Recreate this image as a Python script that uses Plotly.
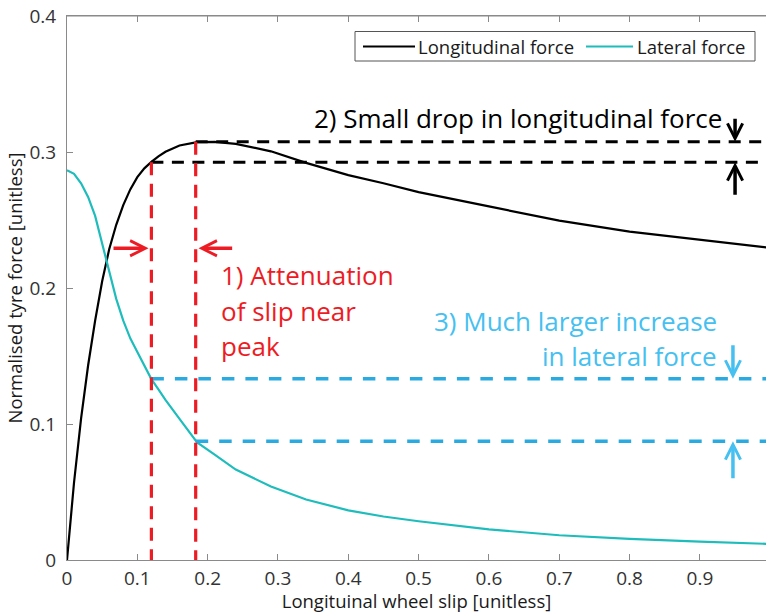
import plotly.graph_objects as go

# Wheel slip grid and normalised tyre forces
slip = [0.00, 0.01, 0.02, 0.03, 0.04, 0.05, 0.06, 0.07, 0.08, 0.09,
        0.10, 0.11, 0.12, 0.13, 0.14, 0.16, 0.185, 0.21, 0.24, 0.29,
        0.34, 0.40, 0.45, 0.50, 0.60, 0.70, 0.80, 0.90, 1.00]
longitudinal_force = [0.000, 0.057, 0.104, 0.143, 0.176, 0.205, 0.2285, 0.2465, 0.2610, 0.2725,
                      0.2815, 0.2880, 0.2927, 0.2968, 0.3002, 0.3048, 0.3073, 0.3074, 0.3060, 0.3005,
                      0.2920, 0.2830, 0.2770, 0.2705, 0.2600, 0.2495, 0.2415, 0.2355, 0.2295]
lateral_force = [0.2865, 0.2840, 0.2770, 0.2670, 0.2530, 0.2330, 0.2110, 0.1920, 0.1760, 0.1630,
                 0.1530, 0.1430, 0.1330, 0.1255, 0.1178, 0.1037, 0.0865, 0.0775, 0.0665, 0.0540,
                 0.0445, 0.0365, 0.0320, 0.0285, 0.0225, 0.0182, 0.0155, 0.0135, 0.0118]

# Operating points compared in the annotations
slip_marks = [0.12, 0.183]
long_levels = [0.2925, 0.3075]
lat_levels = [0.1333, 0.0873]

x_ticks = [0, 0.1, 0.2, 0.3, 0.4, 0.5, 0.6, 0.7, 0.8, 0.9]
y_ticks = [0, 0.1, 0.2, 0.3, 0.4]
y_tick_text = ["0", "0.1", "0.2", "0.3", "0.4"]

series_names = ["Longitudinal force", "Lateral force"]

FONT = "Open Sans"
RED = "#ed1c24"
SKY = "#29abe2"
SKY_LIGHT = "#45c0f0"
CURVE_CYAN = "#1fbcbc"
AXIS_GREY = "#8a8a8a"
TEXT_GREY = "#333333"

W, H = 766, 613
ML, MT, MB = 67, 16, 53
PW, PH = W - ML, H - MT - MB
x_end = 0.994


def px(x):
    """pixel column -> paper x"""
    return (x - ML) / PW


def py(y):
    """pixel row -> paper y"""
    return (H - MB - y) / PH


fig = go.Figure()

fig.add_trace(go.Scatter(x=slip, y=longitudinal_force, mode="lines",
                         name=series_names[0], showlegend=False,
                         line=dict(color="black", width=2.2)))
fig.add_trace(go.Scatter(x=slip, y=lateral_force, mode="lines",
                         name=series_names[1], showlegend=False,
                         line=dict(color=CURVE_CYAN, width=2.2)))

# Dashed guide lines: horizontal levels run out to the right edge
for s, lv in zip(slip_marks, long_levels):
    fig.add_trace(go.Scatter(x=[s, 1.0], y=[lv, lv], mode="lines", showlegend=False,
                             hoverinfo="skip",
                             line=dict(color="black", width=3, dash="12px,8.5px")))
for s, lv in zip(slip_marks, lat_levels):
    fig.add_trace(go.Scatter(x=[s, 1.0], y=[lv, lv], mode="lines", showlegend=False,
                             hoverinfo="skip",
                             line=dict(color=SKY, width=3.5, dash="12.5px,11px")))
# Vertical slip markers from the longitudinal level down to zero
for s, lv in zip(slip_marks, long_levels):
    fig.add_trace(go.Scatter(x=[s, s], y=[lv, 0], mode="lines", showlegend=False,
                             hoverinfo="skip",
                             line=dict(color=RED, width=3.2, dash="13px,8.5px")))

annotations = []


def arrow(x_tip, y_tip, x_tail, y_tail, color):
    annotations.append(dict(
        x=x_tip, y=y_tip, ax=x_tail, ay=y_tail,
        xref="x", yref="y", axref="x", ayref="y",
        text="", showarrow=True, arrowhead=5, arrowsize=0.85,
        arrowwidth=3.5, arrowcolor=color, standoff=0))


# slip attenuation arrows
arrow(0.116, 0.2292, 0.064, 0.2292, RED)
arrow(0.187, 0.2292, 0.237, 0.2292, RED)
# longitudinal drop arrows
arrow(0.950, long_levels[1], 0.950, 0.3255, "black")
arrow(0.950, long_levels[0], 0.950, 0.2675, "black")
# lateral increase arrows
arrow(0.947, lat_levels[0], 0.947, 0.1590, SKY_LIGHT)
arrow(0.947, lat_levels[1], 0.947, 0.0590, SKY_LIGHT)

# Text callouts
annotations.append(dict(x=0.642, y=0.3252, xref="x", yref="y", xanchor="center", yanchor="middle",
                        text="2) Small drop in longitudinal force", showarrow=False,
                        font=dict(family=FONT, size=26, color="black")))
for txt, yy in zip(["1) Attenuation", "of slip near", "peak"], [0.2096, 0.1831, 0.1574]):
    annotations.append(dict(x=0.216, y=yy, xref="x", yref="y", xanchor="left", yanchor="middle",
                            text=txt, showarrow=False,
                            font=dict(family=FONT, size=26, color=RED)))
for txt, yy in zip(["3) Much larger increase", "in lateral force"], [0.1758, 0.1501]):
    annotations.append(dict(x=0.927, y=yy, xref="x", yref="y", xanchor="right", yanchor="middle",
                            text=txt, showarrow=False,
                            font=dict(family=FONT, size=26, color=SKY_LIGHT)))

# Tick label of x = 1 sits just past the visible edge
annotations.append(dict(x=1.0 / x_end, y=0, xref="paper", yref="paper",
                        xanchor="center", yanchor="top", yshift=-7,
                        text="1", showarrow=False,
                        font=dict(family=FONT, size=19, color=TEXT_GREY)))

# Legend box drawn as a framed row of line samples and labels
legend_y = py(46.5)
fig.add_shape(type="rect", xref="paper", yref="paper",
              x0=px(355), x1=px(755), y0=py(61), y1=py(31.5),
              line=dict(color="#555555", width=1), fillcolor="white", layer="above")
for (x0, x1), color in zip([(363, 415), (586, 633)], ["black", CURVE_CYAN]):
    fig.add_shape(type="line", xref="paper", yref="paper",
                  x0=px(x0), x1=px(x1), y0=legend_y, y1=legend_y,
                  line=dict(color=color, width=2.2), layer="above")
for name, x0 in zip(series_names, [416, 635]):
    annotations.append(dict(x=px(x0), y=legend_y, xref="paper", yref="paper",
                            xanchor="left", yanchor="middle", text=name, showarrow=False,
                            font=dict(family=FONT, size=18.5, color="#1a1a1a")))

fig.update_layout(
    width=W, height=H,
    margin=dict(l=ML, r=0, t=MT, b=MB, pad=0),
    paper_bgcolor="white", plot_bgcolor="white",
    font=dict(family=FONT, size=19, color=TEXT_GREY),
    showlegend=False,
    annotations=annotations,
)

fig.update_xaxes(range=[0, x_end], tickvals=x_ticks, ticktext=[f"{v:g}" for v in x_ticks],
                 ticks="inside", ticklen=6, tickcolor=AXIS_GREY, tickwidth=1,
                 showline=True, linecolor=AXIS_GREY, linewidth=1, mirror="ticks",
                 showgrid=False, zeroline=False, ticklabelstandoff=1,
                 tickfont=dict(family=FONT, size=19, color=TEXT_GREY),
                 title=dict(text="Longituinal wheel slip [unitless]", standoff=4,
                            font=dict(family=FONT, size=18.5, color="#1a1a1a")))
fig.update_yaxes(range=[0, 0.4], tickvals=y_ticks, ticktext=y_tick_text,
                 ticks="inside", ticklen=6, tickcolor=AXIS_GREY, tickwidth=1,
                 showline=True, linecolor=AXIS_GREY, linewidth=1, mirror=False,
                 showgrid=False, zeroline=False, ticklabelstandoff=6,
                 tickfont=dict(family=FONT, size=19, color=TEXT_GREY),
                 title=dict(text="Normalised tyre force [unitless]", standoff=2,
                            font=dict(family=FONT, size=18.5, color="#1a1a1a")))

# top border with inward ticks
fig.add_shape(type="line", xref="paper", yref="paper", x0=0, x1=1, y0=1, y1=1,
              line=dict(color=AXIS_GREY, width=1))

fig.write_html("out.html")
